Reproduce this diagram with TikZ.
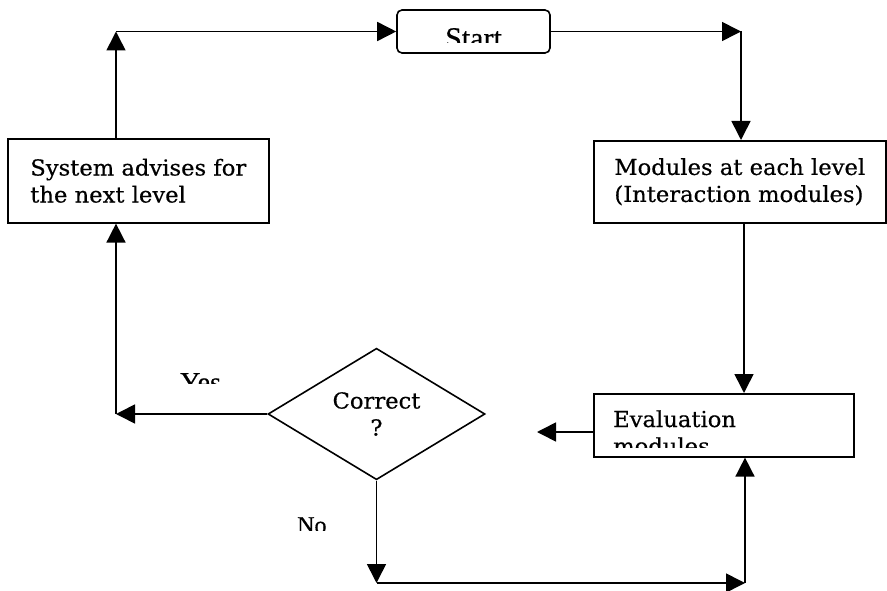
\documentclass[tikz,border=0pt]{standalone}
\usepackage{fontspec}
\usetikzlibrary{shapes.geometric,arrows.meta}
\newfontfamily\boxfont[FakeStretch=1.03,FakeBold=0.5]{DejaVu Serif}
\newfontfamily\labfont[FakeBold=0.5]{Liberation Serif}

\begin{document}
\begin{tikzpicture}[x=1pt,y=-1pt,
  flow/.style={line width=1.6pt, -{Triangle[length=19pt,width=19pt]}},
  boxtext/.style={font=\boxfont\fontsize{22}{27}\selectfont},
  rect/.style={draw, line width=1.6pt, inner sep=0pt, align=left, boxtext},
  lab/.style={inner sep=0pt, anchor=base west},
]
\useasboundingbox (0,0) rectangle (887,591);

% process boxes
\node[rect, rounded corners=5pt, minimum width=153pt, minimum height=43pt] (start) at (473.5,31.5) {};
\node[rect, anchor=north west, minimum width=261pt, minimum height=84pt] (advise) at (7,138)
  {System advises for\\the next level};
\node[rect, anchor=north west, minimum width=292pt, minimum height=82pt] (modules) at (593,140)
  {Modules at each level\\(Interaction modules)};
\node[rect, anchor=north west, minimum width=260pt, minimum height=63pt] (eval) at (593,393) {};

% decision
\node[draw, diamond, line width=1.6pt, minimum width=217pt, minimum height=128pt,
  inner sep=0pt, align=center, boxtext] (dec) at (376.5,414) {Correct\\?};

% texts cut off by their frames
\begin{scope}
  \clip (397,10) rectangle (550,42.7);
  \node[lab, font=\labfont\fontsize{30}{32}\selectfont] (starttext) at (445,48) {Start};
\end{scope}
\begin{scope}
  \clip (593,393) rectangle (853,447.7);
  \node[lab, boxtext] (evaltop) at (613,427) {Evaluation};
  \node[lab, boxtext] (evalbottom) at (613,454) {modules};
\end{scope}
\begin{scope}
  \clip (150,350) rectangle (260,383.3);
  \node[lab, font=\labfont\fontsize{28}{30}\selectfont] (yes) at (180,391.5) {Yes};
\end{scope}
\begin{scope}
  \clip (280,505) rectangle (340,530.5);
  \node[lab, font=\labfont\fontsize{24}{26}\selectfont] (no) at (297,533) {No};
\end{scope}

% bend points of the connectors
\coordinate (tl) at (116,31.5);
\coordinate (tr) at (741,31.5);
\coordinate (vx) at (744,300);
\coordinate (evalout) at (537,432);
\coordinate (yesend) at (116,414);
\coordinate (nodown) at (376.5,583);
\coordinate (noright) at (745,583);

% connectors
\draw[flow] (tl |- advise.north) -- (tl);
\draw[flow] (tl) -- (start.west);
\draw[flow] (start.east) -- (tr);
\draw[flow] (tr) -- (tr |- modules.north);
\draw[flow] (vx |- modules.south) -- (vx |- eval.north);
\draw[flow] (eval.west |- evalout) -- (evalout);
\draw[flow] (dec.west) -- (yesend);
\draw[flow] (yesend) -- (yesend |- advise.south);
\draw[flow] (dec.south) -- (nodown);
\draw[flow] (nodown) -- (noright);
\draw[flow] (noright) -- (noright |- eval.south);
\end{tikzpicture}
\end{document}
